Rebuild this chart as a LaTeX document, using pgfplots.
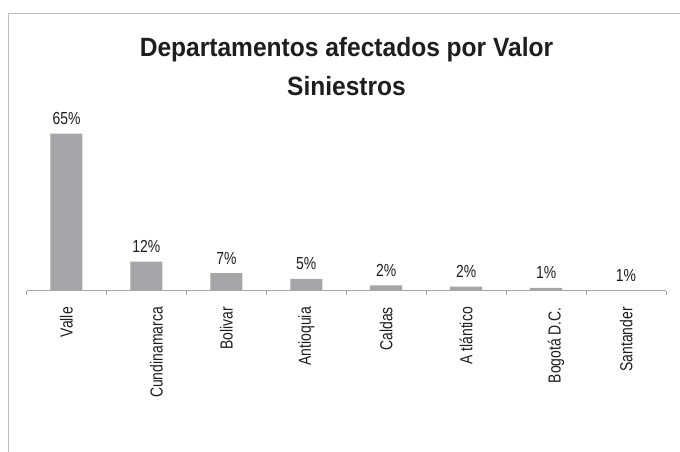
\documentclass[border=0pt]{standalone}
\usepackage{pgfplots}
\pgfplotsset{compat=1.18}
\usepackage{fontspec}
\setmainfont{Liberation Sans}
\newfontfamily\labfont[FakeStretch=0.8]{Liberation Sans}
\newfontfamily\titfont[FakeStretch=0.93]{Liberation Sans}
\definecolor{barc}{RGB}{166,166,169}
\definecolor{axc}{RGB}{165,165,165}
\definecolor{framec}{RGB}{190,190,190}
\definecolor{txt}{RGB}{30,30,30}
\begin{document}
\begin{tikzpicture}
\useasboundingbox (0,0) rectangle (680bp,452bp);
\draw[framec, line width=1bp] (8.3bp,0) -- (8.3bp,438bp) -- (680bp,438bp);
\node[anchor=base, text=txt, inner sep=0pt] at (346.5bp,395.5bp) {\titfont\bfseries\fontsize{26.5}{30}\selectfont Departamentos afectados por Valor};
\node[anchor=base, text=txt, inner sep=0pt] at (346.5bp,356bp) {\titfont\bfseries\fontsize{26.5}{30}\selectfont Siniestros};
\begin{axis}[
  at={(26.5bp,161bp)}, anchor=south west,
  scale only axis, width=639.5bp, height=169.4bp,
  xmin=-0.5, xmax=7.5, ymin=0, ymax=70,
  axis x line*=bottom, axis y line=none,
  axis line style={axc, line width=1bp},
  xtick={0,...,7},
  xticklabels={Valle,{\raisebox{-10bp}[\height][\depth]{Cundinamarca}},Bolivar,Antioquia,Caldas,A tlántico,{\raisebox{-10bp}[\height][\depth]{Bogotá D.C.}},Santander},
  major tick length=0pt,
  minor xtick={-0.5,0.5,...,7.5},
  minor tick length=4bp,
  tick align=outside,
  minor tick style={axc, line width=1bp},
  xticklabel style={rotate=90, anchor=east, inner sep=0pt, text=txt, font=\labfont\fontsize{17.5}{20}\selectfont},
  xticklabel shift=16bp,
  clip=false,
  ybar, bar width=32bp,
  nodes near coords,
  point meta=explicit symbolic,
  every node near coord/.append style={anchor=base, yshift=9bp, inner sep=0pt, text=txt, font=\labfont\fontsize{17.5}{20}\selectfont},
]
\addplot[fill=barc, draw=none] coordinates {
  (0,65)[65\%]
  (1,12.1)[12\%]
  (2,7.4)[7\%]
  (3,5.0)[5\%]
  (4,2.3)[2\%]
  (5,1.8)[2\%]
  (6,1.3)[1\%]
  (7,0.3)[1\%]
};
\end{axis}
\end{tikzpicture}
\end{document}
